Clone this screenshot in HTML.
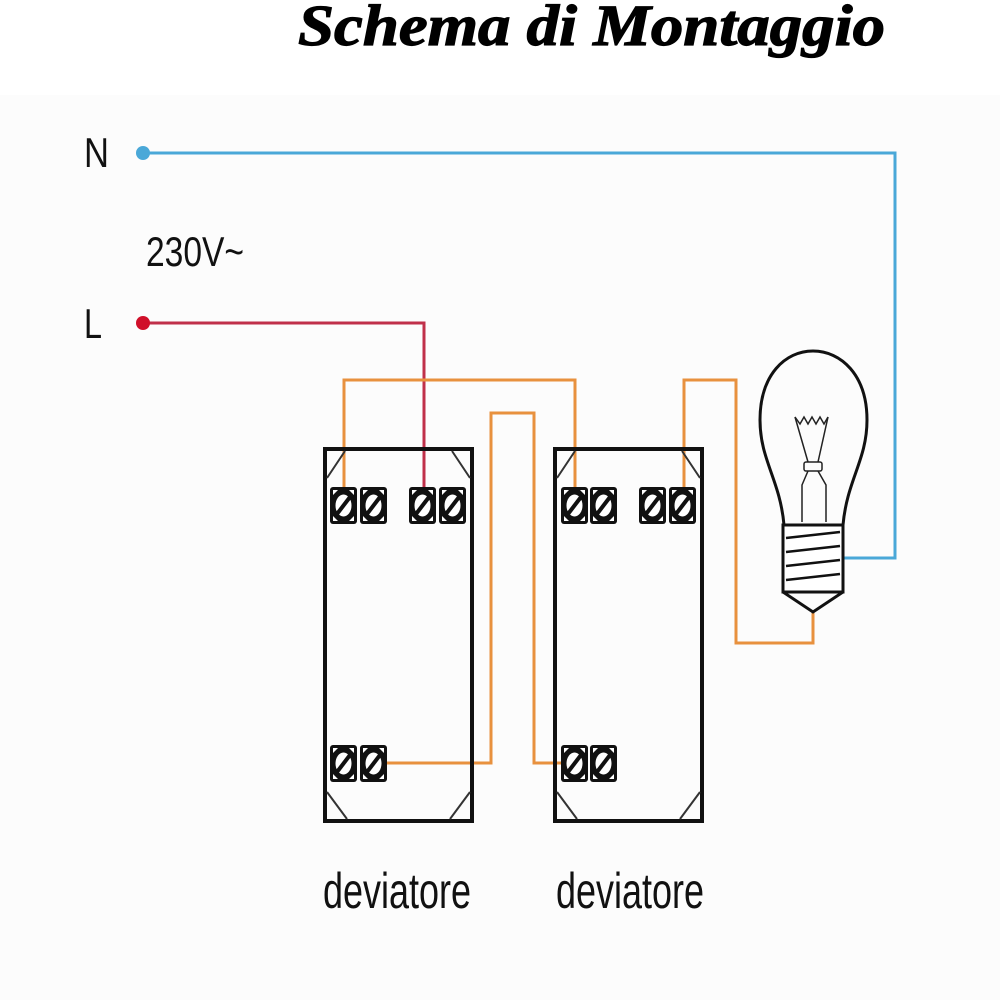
<!DOCTYPE html>
<html><head><style>body{margin:0;background:#fff}svg{display:block}</style></head><body>
<svg width="1000" height="1000" viewBox="0 0 1000 1000" xmlns="http://www.w3.org/2000/svg">
<defs>
<g id="t">
<rect x="0" y="0" width="27" height="37" rx="3" fill="#111"/>
<path d="M3 3 L8 3 L3 8Z M24 3 L19 3 L24 8Z M3 34 L8 34 L3 29Z M24 34 L19 34 L24 29Z" fill="#fff"/>
<ellipse cx="13.5" cy="18.5" rx="8" ry="11" fill="#fff"/>
<line x1="7" y1="27" x2="20" y2="10" stroke="#111" stroke-width="4"/>
</g>
</defs>
<rect x="0" y="95" width="1000" height="905" fill="#fcfcfc"/>
<text x="298" y="45" font-family="Liberation Serif, serif" font-weight="900" font-style="italic" font-size="58" stroke="#000" stroke-width="1.2" textLength="587" lengthAdjust="spacingAndGlyphs">Schema di Montaggio</text>
<text x="84" y="167" font-family="Liberation Sans, sans-serif" font-size="42" textLength="25" lengthAdjust="spacingAndGlyphs" fill="#111">N</text>
<text x="146" y="266" font-family="Liberation Sans, sans-serif" font-size="42" textLength="98" lengthAdjust="spacingAndGlyphs" fill="#111">230V~</text>
<text x="84" y="338" font-family="Liberation Sans, sans-serif" font-size="42" textLength="18" lengthAdjust="spacingAndGlyphs" fill="#111">L</text>
<g fill="none" stroke-width="3">
<polyline points="143,153 895,153 895,558 840,558" stroke="#4aa8d8"/>
<polyline points="143,323 424,323 424,490" stroke="#c0304a"/>
<g stroke="#e8913e">
<polyline points="344,490 344,380 575,380 575,490"/>
<polyline points="387,763 491,763 491,413 534,413 534,763 562,763"/>
<polyline points="684,490 684,380 736,380 736,643 813,643 813,612"/>
</g>
</g>
<circle cx="143" cy="153" r="7" fill="#4aa8d8"/>
<circle cx="143" cy="323" r="7" fill="#d0102a"/>
<g fill="none" stroke="#111" stroke-width="4">
<rect x="325" y="449" width="147" height="372"/>
<rect x="555" y="449" width="147" height="372"/>
</g>
<g stroke="#333" stroke-width="2">
<line x1="327" y1="478" x2="345" y2="451"/><line x1="470" y1="478" x2="452" y2="451"/>
<line x1="327" y1="792" x2="347" y2="819"/><line x1="470" y1="792" x2="450" y2="819"/>
<line x1="557" y1="478" x2="575" y2="451"/><line x1="700" y1="478" x2="682" y2="451"/>
<line x1="557" y1="792" x2="577" y2="819"/><line x1="700" y1="792" x2="680" y2="819"/>
</g>
<use href="#t" x="330" y="487"/><use href="#t" x="360" y="487"/><use href="#t" x="409" y="487"/><use href="#t" x="439" y="487"/>
<use href="#t" x="561" y="487"/><use href="#t" x="590" y="487"/><use href="#t" x="639" y="487"/><use href="#t" x="669" y="487"/>
<use href="#t" x="330" y="745"/><use href="#t" x="360" y="745"/>
<use href="#t" x="561" y="745"/><use href="#t" x="590" y="745"/>
<g fill="none" stroke="#111" stroke-width="3">
<path d="M784 525 C780 480 760 460 760 420 C760 375 785 351 813 351 C841 351 867 375 867 420 C867 460 847 480 843 525"/>
<path d="M783 525 L843 525 L843 592 L783 592 Z" fill="#fff"/>
<path d="M783 592 L813 612 L843 592"/>
<path d="M786 538 L840 532 M786 552 L840 546 M786 566 L840 560 M786 580 L840 574" stroke-width="2.5"/>
</g>
<g fill="none" stroke="#222" stroke-width="1.5">
<path d="M795 417 L800 424 L804 417 L808 424 L812 417 L816 424 L820 417 L824 424 L828 417"/>
<path d="M795 417 L808 462 M828 417 L818 462"/>
<rect x="804" y="462" width="18" height="9" rx="2"/>
<path d="M808 471 L802 485 L802 522 M818 471 L826 485 L826 522"/>
</g>
<text x="323" y="908" font-family="Liberation Sans, sans-serif" font-size="50" textLength="148" lengthAdjust="spacingAndGlyphs" fill="#111">deviatore</text>
<text x="556" y="908" font-family="Liberation Sans, sans-serif" font-size="50" textLength="148" lengthAdjust="spacingAndGlyphs" fill="#111">deviatore</text>
</svg>
</body></html>
